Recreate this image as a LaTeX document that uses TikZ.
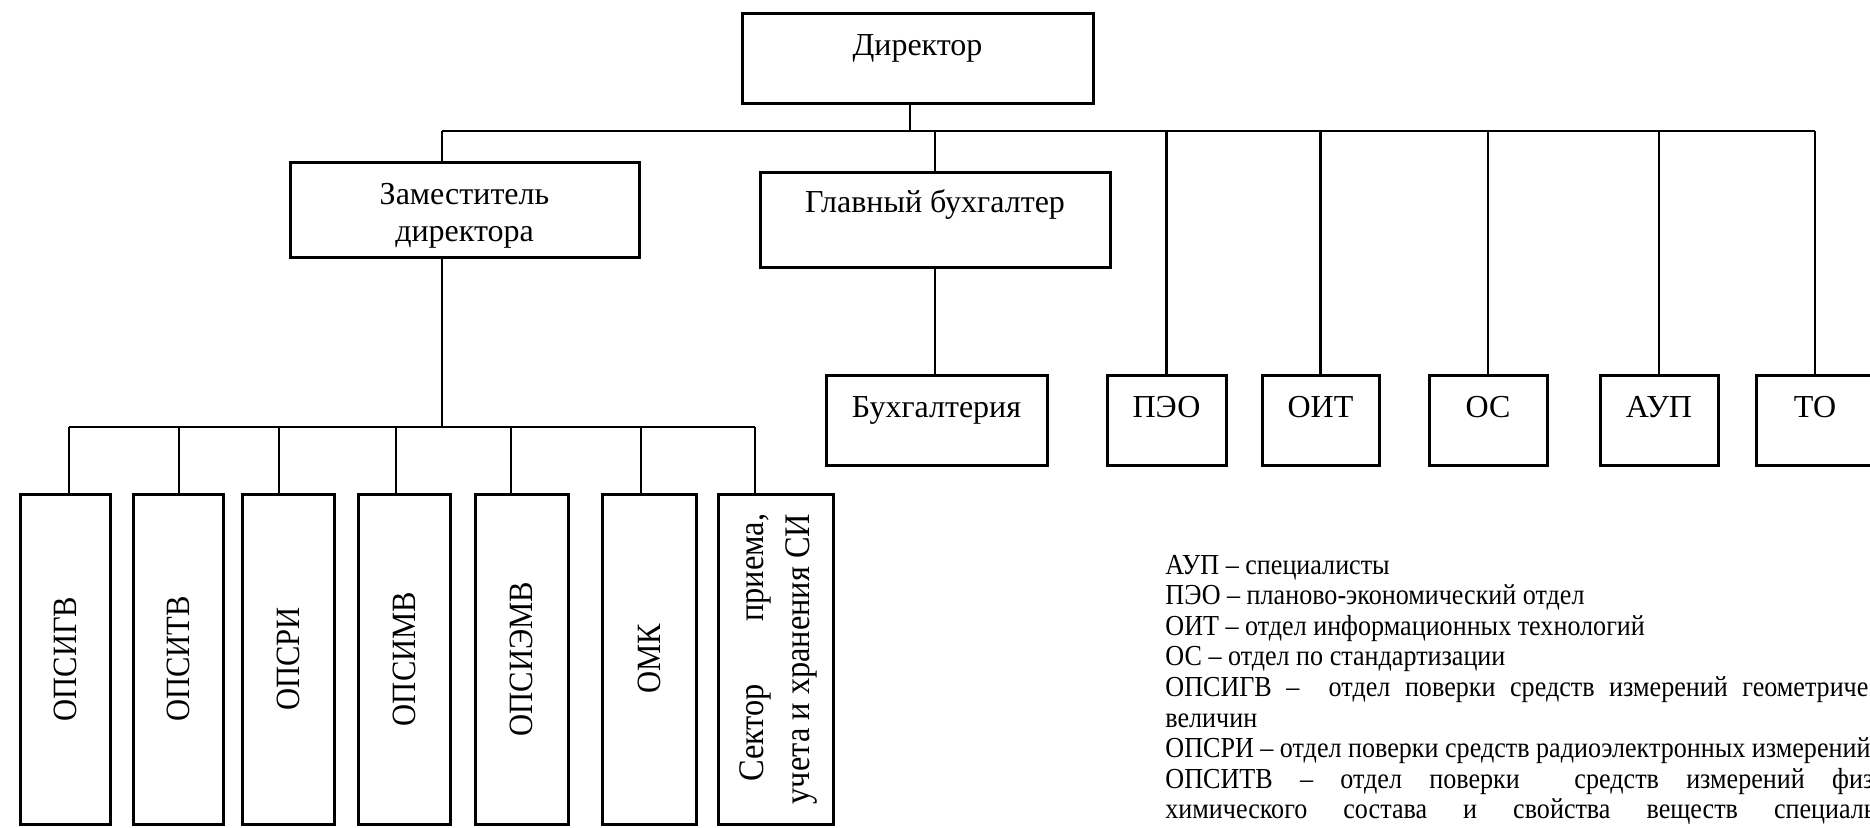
\documentclass[tikz,border=0pt]{standalone}
\usepackage{fontspec}
\setmainfont{Liberation Serif}
\newfontfamily\legfont[FakeStretch=0.9]{Liberation Serif}
\newfontfamily\vfont[FakeStretch=0.9]{Liberation Serif}
\begin{document}
\begin{tikzpicture}[x=0.5pt,y=-0.5pt,
  box/.style={draw, line width=1.5pt, inner sep=0pt, outer sep=0pt},
  conn/.style={line width=1.2pt},
  lbl/.style={anchor=base, inner sep=0pt, font=\fontsize{16}{19}\selectfont},
  vlbl/.style={rotate=90, inner sep=0pt, font=\vfont\fontsize{17}{23}\selectfont},
  leg/.style={anchor=base west, inner sep=0pt, font=\legfont\fontsize{14.5}{15}\selectfont}]
\useasboundingbox (0,0) rectangle (1870,827);

% top level
\node[box, minimum width=175.5pt, minimum height=45pt] (dir) at (917.5,58) {};
\node[lbl] (dirT) at (917.5,55) {Директор};

\node[box, minimum width=174.5pt, minimum height=47.5pt] (zam) at (464.5,209.5) {};
\node[lbl] (zamT1) at (464.5,204) {Заместитель};
\node[lbl] (zamT2) at (464.5,241) {директора};

\node[box, minimum width=175pt, minimum height=47.5pt] (glav) at (935,219.5) {};
\node[lbl] (glavT) at (935,212) {Главный бухгалтер};

\node[box, minimum width=110.5pt, minimum height=45pt] (buh) at (936.5,420) {};
\node[lbl] (buhT) at (936.5,417) {Бухгалтерия};

\node[box, minimum width=59.5pt, minimum height=45pt] (peo) at (1166.5,420) {};
\node[lbl] (peoT) at (1166.5,417) {ПЭО};
\node[box, minimum width=58.5pt, minimum height=45pt] (oit) at (1320.5,420) {};
\node[lbl] (oitT) at (1320.5,417) {ОИТ};
\node[box, minimum width=59pt, minimum height=45pt] (os) at (1488,420) {};
\node[lbl] (osT) at (1488,417) {ОС};
\node[box, minimum width=59pt, minimum height=45pt] (aup) at (1659,420) {};
\node[lbl] (aupT) at (1659,417) {АУП};
\node[box, minimum width=59pt, minimum height=45pt] (to) at (1815,420) {};
\node[lbl] (toT) at (1815,417) {ТО};

% lower departments
\node[box, minimum width=45pt, minimum height=165pt] (b1) at (65,659) {};
\node[box, minimum width=45pt, minimum height=165pt] (b2) at (178,659) {};
\node[box, minimum width=46pt, minimum height=165pt] (b3) at (288,659) {};
\node[box, minimum width=46pt, minimum height=165pt] (b4) at (404,659) {};
\node[box, minimum width=46.5pt, minimum height=165pt] (b5) at (521.5,659) {};
\node[box, minimum width=47pt, minimum height=165pt] (b6) at (649,659) {};
\node[box, minimum width=57.5pt, minimum height=165pt] (b7) at (775.5,659) {};
\node[vlbl] (b1t) at (b1) {ОПСИГВ};
\node[vlbl] (b2t) at (b2) {ОПСИТВ};
\node[vlbl] (b3t) at (b3) {ОПСРИ};
\node[vlbl] (b4t) at (b4) {ОПСИМВ};
\node[vlbl] (b5t) at (b5) {ОПСИЭМВ};
\node[vlbl] (b6t) at (b6) {ОМК};
\node[vlbl, align=right, font=\vfont\fontsize{18}{23}\selectfont] (b7t) at ([xshift=1.5pt]b7.center) {\makebox[134pt][s]{Сектор\ приема,}\\учета и хранения СИ};

% connectors
\coordinate (busL) at (442,131);
\coordinate (busR) at (1815,131);
\draw[conn] ([xshift=-3.75pt]dir.south) -- ([xshift=-3.75pt]dir.south |- busL);
\draw[conn] (busL) -- (busR);
\draw[conn] (busL) -- (busL |- zam.north);
\draw[conn] (glav.north |- busL) -- (glav.north);
\draw[conn] (glav.south) -- (glav.south |- buh.north);
\draw[conn] (peo.north |- busL) -- (peo.north);
\draw[conn] (oit.north |- busL) -- (oit.north);
\draw[conn] (os.north |- busL) -- (os.north);
\draw[conn] (aup.north |- busL) -- (aup.north);
\draw[conn] (busR) -- (to.north);

\coordinate (subL) at (69,427);
\coordinate (subR) at (755,427);
\draw[conn] (busL |- zam.south) -- (busL |- subL);
\draw[conn] (subL) -- (subR);
\draw[conn] (subL) -- (subL |- b1.north);
\draw[conn] ([xshift=0.5pt]b2.north |- subL) -- ([xshift=0.5pt]b2.north);
\draw[conn] ([xshift=-4.5pt]b3.north |- subL) -- ([xshift=-4.5pt]b3.north);
\draw[conn] ([xshift=-4pt]b4.north |- subL) -- ([xshift=-4pt]b4.north);
\draw[conn] ([xshift=-5.25pt]b5.north |- subL) -- ([xshift=-5.25pt]b5.north);
\draw[conn] ([xshift=-4pt]b6.north |- subL) -- ([xshift=-4pt]b6.north);
\draw[conn] (subR) -- (subR |- b7.north);

% legend
\node[leg] (leg1) at (1165,574) {АУП – специалисты};
\node[leg] (leg2) at (1165,604.6) {ПЭО – планово-экономический отдел};
\node[leg] (leg3) at (1165,635.2) {ОИТ – отдел информационных технологий};
\node[leg] (leg4) at (1165,665.8) {ОС – отдел по стандартизации};
\node[leg] (leg5) at (1165,696.4) {\makebox[377.5pt][s]{ОПСИГВ – \ отдел поверки средств измерений геометрических}};
\node[leg] (leg6) at (1165,727) {величин};
\node[leg] (leg7) at (1165,757.6) {ОПСРИ – отдел поверки средств радиоэлектронных измерений};
\node[leg] (leg8) at (1165,788.2) {\makebox[377.5pt][s]{ОПСИТВ – отдел поверки \ средств измерений физико-}};
\node[leg] (leg9) at (1165,818.8) {\makebox[377.5pt][s]{химического состава и свойства веществ специальных}};
\end{tikzpicture}
\end{document}
